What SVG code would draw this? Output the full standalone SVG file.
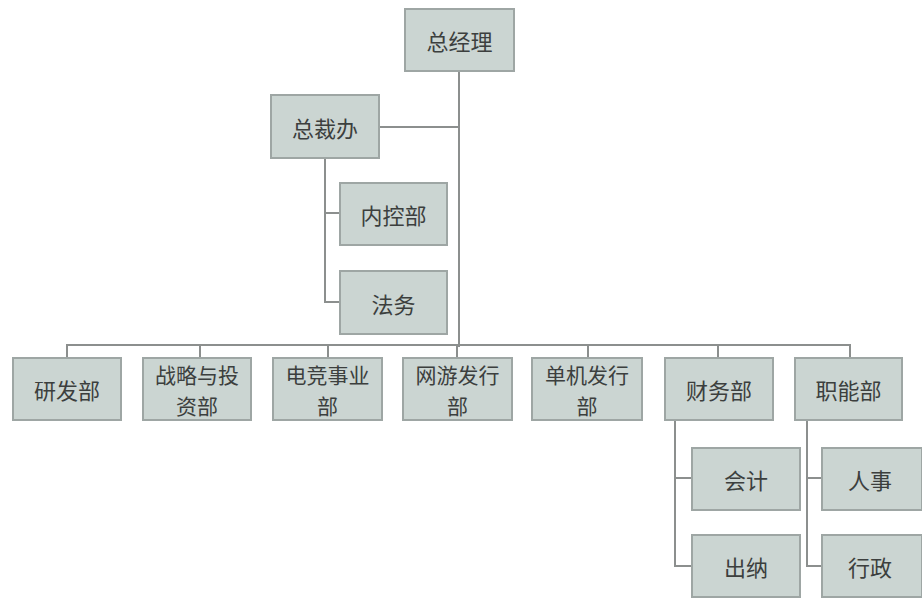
<svg xmlns="http://www.w3.org/2000/svg" width="922" height="598" viewBox="0 0 922 598">
<style>
.b{fill:#cbd5d2;stroke:#9ea6a4;stroke-width:2}
.t{font-family:"Noto Sans CJK SC","Noto Sans",sans-serif;font-size:22px;fill:#3c3f3e;text-anchor:middle;dominant-baseline:central}
.s{font-size:21px}
.c{fill:none;stroke:#8c8f8e;stroke-width:2}
</style>
<rect width="922" height="598" fill="#ffffff"/>
<g id="connectors">
<path class="c" d="M459 71V347"/>
<path class="c" d="M379 127H459"/>
<path class="c" d="M325 158V302H340M325 213H340"/>
<path class="c" d="M67 358V345H850V358M200 345V358M328 345V358M457 345V358M588 345V358M718 345V358"/>
<path class="c" d="M675 420V566H692M675 478H692"/>
<path class="c" d="M807 420V566H822M807 478H822"/>
</g>
<g id="n_zjl"><rect class="b" x="405" y="9" width="109" height="62"/><text class="t" x="459.5" y="40">总经理</text></g>
<g id="n_zcb"><rect class="b" x="271" y="95" width="108" height="63"/><text class="t" x="325" y="126.5">总裁办</text></g>
<g id="n_nkb"><rect class="b" x="340" y="183" width="107" height="62"/><text class="t" x="393.5" y="214">内控部</text></g>
<g id="n_fw"><rect class="b" x="340" y="271" width="107" height="63"/><text class="t" x="393.5" y="302.5">法务</text></g>
<g id="n_yfb"><rect class="b" x="13" y="358" width="108" height="62"/><text class="t" x="67" y="389">研发部</text></g>
<g id="n_zl"><rect class="b" x="143" y="358" width="108" height="62"/><text class="t s" x="197" y="374">战略与投</text><text class="t s" x="197" y="405">资部</text></g>
<g id="n_dj"><rect class="b" x="273" y="358" width="109" height="62"/><text class="t s" x="327.5" y="374">电竞事业</text><text class="t s" x="327.5" y="405">部</text></g>
<g id="n_wy"><rect class="b" x="403" y="358" width="109" height="62"/><text class="t s" x="457.5" y="374">网游发行</text><text class="t s" x="457.5" y="405">部</text></g>
<g id="n_dj2"><rect class="b" x="532" y="358" width="110" height="62"/><text class="t s" x="587" y="374">单机发行</text><text class="t s" x="587" y="405">部</text></g>
<g id="n_cwb"><rect class="b" x="665" y="358" width="108" height="62"/><text class="t" x="719" y="389">财务部</text></g>
<g id="n_znb"><rect class="b" x="795" y="358" width="107" height="62"/><text class="t" x="848.5" y="389">职能部</text></g>
<g id="n_kj"><rect class="b" x="692" y="448" width="108" height="62"/><text class="t" x="746" y="479">会计</text></g>
<g id="n_cn"><rect class="b" x="692" y="535" width="108" height="62"/><text class="t" x="746" y="566">出纳</text></g>
<g id="n_rs"><rect class="b" x="822" y="448" width="100" height="62"/><text class="t" x="870" y="479">人事</text></g>
<g id="n_xz"><rect class="b" x="822" y="535" width="100" height="62"/><text class="t" x="870" y="566">行政</text></g>
</svg>
